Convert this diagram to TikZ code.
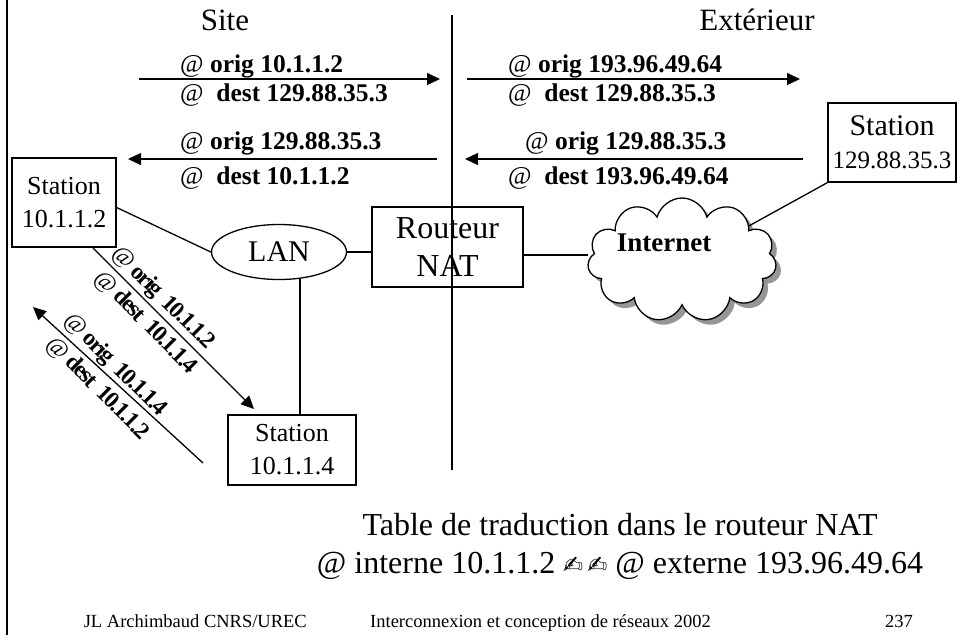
\documentclass[tikz,border=0pt]{standalone}
\usepackage{fontspec}
\setmainfont{Liberation Serif}
\newfontfamily\symbfont{DejaVu Sans}
\usetikzlibrary{arrows.meta,positioning,shapes.geometric,shapes.symbols,shadows}
\definecolor{ShadowGray}{RGB}{150,150,150}
\newcommand{\at}{{\mdseries @}}
\tikzset{
  station/.style={draw,line width=1.3pt,align=center,inner sep=0pt,
    font=\fontsize{26}{33}\selectfont},
  lan/.style={ellipse,draw,line width=1.3pt,minimum width=135pt,
    minimum height=55pt,inner sep=0pt,font=\fontsize{30}{36}\selectfont},
  router/.style={draw,line width=1.3pt,align=center,inner sep=0pt,
    minimum width=151pt,minimum height=80pt,font=\fontsize{32}{38}\selectfont},
  net/.style={cloud,cloud puffs=11,aspect=1.5,draw,line width=1.3pt,fill=white,
    minimum width=189pt,minimum height=124pt,inner sep=0pt,
    drop shadow={shadow xshift=5pt,shadow yshift=-5pt,fill=ShadowGray,opacity=1}},
  link/.style={line width=1.3pt},
  arrow/.style={-{Triangle[length=13pt,width=12pt]},line width=1.3pt},
  addr/.style={anchor=base west,inner sep=0pt,font=\fontsize{25.5}{28}\bfseries},
  diag/.style={rotate=-45,inner sep=1pt,
    font=\fontsize{23.5}{26}\bfseries\addfontfeature{LetterSpace=-7}},
  zone/.style={anchor=base,inner sep=0pt,font=\fontsize{31}{36}\selectfont},
  table/.style={anchor=base,inner sep=0pt,font=\fontsize{32}{38}\selectfont},
  foot/.style={inner sep=0pt,font=\fontsize{18.5}{22}\selectfont}
}

\begin{document}
\begin{tikzpicture}[x=1pt,y=-1pt]
  \useasboundingbox (0,0) rectangle (957,635);
  % frame and site limit
  \coordinate (frt) at (7,0);
  \coordinate (frb) at (7,635);
  \draw[link] (frt) -- (frb);
  \coordinate (limt) at (452,15);
  \coordinate (limb) at (452,470);
  \draw[link] (limt) -- (limb);

  \node[zone] (site) at (225,30) {Site};
  \node[zone] (ext) at (757,30) {Extérieur};

  % equipments
  \node[station,minimum width=104pt,minimum height=89pt] (st1) at (64,202.5) {Station\\10.1.1.2};
  \node[station,minimum width=128pt,minimum height=70pt] (st4) at (292,450) {Station\\10.1.1.4};
  \node[station,minimum width=128pt,minimum height=79pt,font=\fontsize{25}{33}\selectfont]
    (st3) at (892,142.5) {{\fontsize{30}{33}\selectfont Station}\\129.88.35.3};
  \node[lan] (lan) at (279,252) {LAN};
  \node[router] (nat) at (447.5,247) {Routeur\\NAT};
  \node[net] (net) at (682,260) {};
  \node[font=\fontsize{27}{30}\bfseries] (netlbl) at (664,243) {Internet};

  \draw[link] ([yshift=-5pt]st1.east) -- (lan.west);
  \draw[link] (lan.east) -- (lan.east -| nat.west);
  \draw[link] (lan.-52) -- (lan.-52 |- st4.north);
  \draw[link] ([yshift=-8pt]nat.east) -- ([yshift=-8pt]nat.east -| net.west);
  \draw[link] (net.27) -- (st3.south west);

  % flows through the router
  \coordinate (a1s) at (139,79);  \coordinate (a1e) at (440,79);
  \coordinate (a2s) at (437,159); \coordinate (a2e) at (128,159);
  \coordinate (a3s) at (467,79);  \coordinate (a3e) at (800,79);
  \coordinate (a4s) at (803,159); \coordinate (a4e) at (465,159);
  \draw[arrow] (a1s) -- (a1e);
  \draw[arrow] (a2s) -- (a2e);
  \draw[arrow] (a3s) -- (a3e);
  \draw[arrow] (a4s) -- (a4e);
  \node[addr] (o1) at (180,72) {\at\ orig 10.1.1.2};
  \node[addr] (d1) at (180,101) {\at\ \ dest 129.88.35.3};
  \node[addr] (o2) at (180,149) {\at\ orig 129.88.35.3};
  \node[addr] (d2) at (180,184) {\at\ \ dest 10.1.1.2};
  \node[addr] (o3) at (508,72) {\at\ orig 193.96.49.64};
  \node[addr] (d3) at (508,101) {\at\ \ dest 129.88.35.3};
  \node[addr] (o4) at (525,149) {\at\ orig 129.88.35.3};
  \node[addr] (d4) at (508,184) {\at\ \ dest 193.96.49.64};

  % flows inside the site
  \coordinate (b1s) at (93,248);  \coordinate (b1e) at (254,409);
  \coordinate (b2s) at (203,463); \coordinate (b2e) at (33,307);
  \draw[arrow] (b1s) -- (b1e)
    node[diag,pos=.38,above=2pt] (o5) {\at\ orig \ 10.1.1.2}
    node[diag,pos=.38,below=5pt] (d5) {\at\ dest \ 10.1.1.4};
  \draw[arrow] (b2s) -- (b2e)
    node[diag,pos=.57,above=0pt] (o6) {\at\ orig \ 10.1.1.4}
    node[diag,pos=.57,below=6pt] (d6) {\at\ dest \ 10.1.1.2};

  \node[table] (tab1) at (620,535) {Table de traduction dans le routeur NAT};
  \node[table] (tab2) at (620,573) {@ interne 10.1.1.2 {\symbfont\fontsize{24}{26}\selectfont ✍\,✍} @ externe 193.96.49.64};

  \node[foot,anchor=base east] (auth) at (307,627) {JL Archimbaud CNRS/UREC};
  \node[foot,anchor=base west] (course) at (370,627) {Interconnexion et conception de réseaux 2002};
  \node[foot,anchor=base] (page) at (899,627) {237};
\end{tikzpicture}
\end{document}
